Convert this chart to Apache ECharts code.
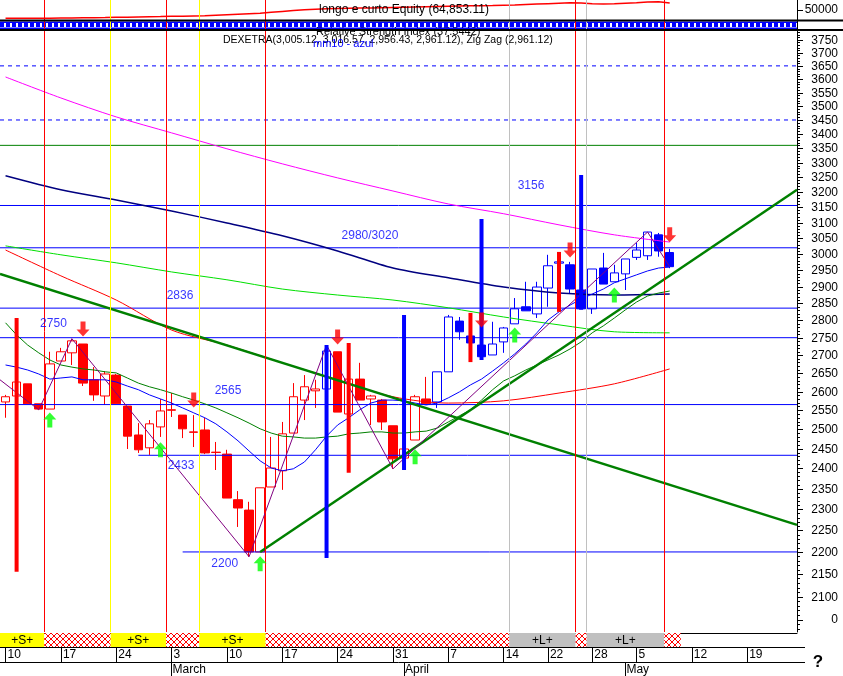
<!DOCTYPE html>
<html>
<head>
<meta charset="utf-8">
<script src="https://cdn.jsdelivr.net/npm/echarts@6.0.0/dist/echarts.min.js"></script>
<style>
html,body{margin:0;padding:0;background:#fff;}
#chart{width:843px;height:676px;}
</style>
</head>
<body>
<div id="chart"></div>
<script>
// ================= DATA =================
const dates = [
 '2014-02-10','2014-02-11','2014-02-12','2014-02-13','2014-02-14','2014-02-17','2014-02-18','2014-02-19','2014-02-20','2014-02-21',
 '2014-02-24','2014-02-25','2014-02-26','2014-02-27','2014-02-28','2014-03-03','2014-03-04','2014-03-05','2014-03-06','2014-03-07',
 '2014-03-10','2014-03-11','2014-03-12','2014-03-13','2014-03-14','2014-03-17','2014-03-18','2014-03-19','2014-03-20','2014-03-21',
 '2014-03-24','2014-03-25','2014-03-26','2014-03-27','2014-03-28','2014-03-31','2014-04-01','2014-04-02','2014-04-03','2014-04-04',
 '2014-04-07','2014-04-08','2014-04-09','2014-04-10','2014-04-11','2014-04-14','2014-04-15','2014-04-16','2014-04-17','2014-04-22',
 '2014-04-23','2014-04-24','2014-04-25','2014-04-28','2014-04-29','2014-04-30','2014-05-02','2014-05-05','2014-05-06','2014-05-07',
 '2014-05-08','2014-05-09','2014-05-12','2014-05-13','2014-05-14','2014-05-15','2014-05-16','2014-05-19','2014-05-20','2014-05-21',
 '2014-05-22','2014-05-23'
];
const weekTickIdx = [0,5,10,15,20,25,30,35,40,45,49,53,57,62,67];
const monthTickIdx = [15,36,56];
const monthNames = ['March','April','May'];

const open = [2572,2588,2621,2567,2553,2684,2707,2732,2632,2588,
 2645,2561,2485,2452,2506,2551,2537,2493,2498,2441,
 2436,2323,2298,2200,2354,2394,2490,2577,2602,2607,
 2710,2540,2634,2580,2577,2509,2426,2472,2580,2572,
 2654,2798,2755,2729,2701,2738,2790,2840,2819,2896,
 2972,2967,2890,2834,2957,2915,2939,2990,2995,3061,3005.12];
const close = [2586,2626,2567,2553,2676,2710,2741,2623,2591,2648,
 2567,2482,2447,2514,2548,2550,2501,2492,2439,2440,
 2327,2303,2200,2352,2401,2488,2586,2613,2607,2712,
 2545,2634,2577,2588,2519,2424,2449,2586,2567,2654,
 2810,2767,2735,2696,2732,2778,2834,2828,2899,2964,
 2976,2893,2834,2954,2908,2942,2985,3013,3070,3010,2961.12];
const low = [2530,2588,2567,2551,2553,2684,2673,2615,2575,2564,
 2567,2449,2439,2434,2480,2532,2477,2454,2436,2396,
 2327,2258,2189,2200,2354,2347,2490,2524,2556,2607,
 2545,2540,2577,2511,2498,2399,2426,2472,2567,2556,
 2654,2744,2729,2687,2701,2707,2790,2828,2807,2840,
 2968,2881,2834,2819,2908,2915,2890,2982,2982,2992,2956.43];
const high = [2591,2626,2621,2567,2710,2721,2747,2732,2667,2656,
 2648,2561,2516,2524,2580,2596,2537,2537,2530,2467,
 2447,2344,2318,2352,2480,2519,2623,2645,2632,2729,
 2710,2634,2679,2591,2580,2509,2449,2591,2640,2654,
 2816,2810,2755,2729,2796,2781,2866,2915,2915,2998,
 2982,2976,2890,2954,3004,2967,2985,3035,3070,3067,3016.57];
const candleColor = ['r','r','r','r','r','r','r','r','r','r',
 'r','r','r','r','r','r','r','r','r','r',
 'r','r','r','r','r','r','r','r','r','b',
 'r','r','r','r','r','r','r','r','r','b',
 'b','b','b','b','b','b','b','b','b','b',
 'b','b','b','b','b','b','b','b','b','b','b'];

const spikeIdx   = [1,29,31,36,42,43,50,52];
const spikeHigh  = [2807,2729,2735,2816,2822,3112,3007,3258];
const spikeLow   = [2155,2186,2389,2396,2681,2687,2825,2831];
const spikeColor = ['r','b','r','b','r','b','r','b'];

const maBlue = [2673,2667,2659,2648,2634,2637,2640,2632,2632,2632,
 2626,2615,2605,2591,2580,2569,2556,2543,2530,2514,
 2493,2470,2444,2419,2401,2394,2399,2416,2447,2482,
 2511,2530,2551,2569,2577,2577,2575,2569,2564,2569,
 2583,2599,2618,2634,2656,2679,2704,2732,2764,2801,
 2825,2845,2863,2878,2893,2912,2924,2936,2948,2957,2960];
const maGreen = [2793,2758,2729,2707,2687,2673,2667,2662,2659,2654,
 2651,2637,2623,2613,2605,2596,2586,2577,2567,2556,
 2543,2530,2516,2501,2490,2482,2480,2477,2477,2480,
 2482,2488,2490,2493,2493,2490,2490,2493,2495,2503,
 2519,2535,2551,2577,2605,2629,2643,2659,2673,2687,
 2701,2718,2738,2764,2784,2807,2831,2854,2872,2881,2887];
const maSampleIdx = [0,5,10,15,20,25,30,35,40,45,50,55,60];
const maNavy    = [3255,3208,3174,3138,3099,3058,3010,2957,2927,2899,2881,2875,2878];
const maMagenta = [3608,3530,3461,3404,3348,3296,3248,3204,3161,3129,3093,3061,3038];
const maRed     = [3013,2933,2860,2772,2729,2679,2632,2586,2569,2575,2596,2621,2662];
const maLime    = [3026,2998,2973,2945,2921,2893,2875,2860,2837,2810,2787,2767,2764];

const zigzagIdx = [-0.5,3,6,22,29,35,58,60];
const zigzagVal = [2632,2551,2747,2189,2729,2399,3070,2961.12];

const levelVal = [2200,2433,2565,2750,2836,3020,3156];
const levelFromIdx = [16,12,-0.5,-0.5,-0.5,-0.5,-0.5];
const levelText = ['2200','2433','2565','2750','2836','2980/3020','3156'];
const greenLevelVal = [3360];
const dashLevelVal = [3450,3650];

const trendDownIdx = [-0.5,71.5], trendDownVal = [2939,2263];
const trendUpIdx = [23,71.5], trendUpVal = [2200,3208];

const vLineAt = [4,10,15,18,24,46,52,53,60];
const vLineKind = ['r','y','r','y','r','g','r','g','r'];

const bandFrom = [0,4,10,15,18,24,46,52,53,60];
const bandTo   = [4,10,15,18,24,46,52,53,60,61.5];
const bandKind = ['S','H','S','H','S','H','L','H','L','H'];

const sellIdx = [7,17,30,43,51,60], sellVal = [2775,2577,2752,2801,3013,3061];
const buyIdx  = [4,14,23,37,46,55], buyVal  = [2524,2447,2173,2429,2758,2875];

const equity = [32400,32400,32500,32500,32600,32800,33000,33300,33600,34000,
 34500,34800,35200,35600,36000,36500,37000,37500,38000,39000,
 40000,41000,42000,43000,45000,47000,49000,50500,51500,52500,
 53000,53500,54000,54500,55000,55500,56000,56500,57000,57500,
 58000,58500,59000,59200,59500,60000,60500,61500,62500,63500,
 64500,65500,65000,63500,62700,63500,64500,65500,67000,67500,64853.11];

const yTickLabels = ['3750','3700','3650','3600','3550','3500','3450','3400','3350','3300','3250','3200',
 '3150','3100','3050','3000','2950','2900','2850','2800','2750','2700','2650','2600','2550','2500',
 '2450','2400','2350','2300','2250','2200','2150','2100'];

// ================= LAYOUT / STYLE =================
const FONT = '"Liberation Sans", Arial, sans-serif';
const RED = '#ff0000', BLUE = '#0000ff', DGREEN = '#008000';
const X = i => i + 0.5;
const colorOf = c => c === 'b' ? BLUE : RED;
const vColor = {r: RED, y: '#ffff00', g: '#c0c0c0'};
const levelLabelX = [20.3, 16.35, 20.6, 4.83, 16.26, 33.42, 47.97];
const levelLabelV = [2173, 2406, 2602, 2790, 2872, 3058, 3221];
const Y_MIN = 2024, Y_MAX = 3785;

// hatch pattern
const pc = document.createElement('canvas');
pc.width = 6; pc.height = 6;
const g = pc.getContext('2d');
g.fillStyle = '#fff'; g.fillRect(0,0,6,6);
g.strokeStyle = RED; g.lineWidth = 1;
g.beginPath(); g.moveTo(0,0); g.lineTo(6,6); g.moveTo(6,0); g.lineTo(0,6); g.stroke();
const hatch = {image: pc, repeat: 'repeat'};

const chart = echarts.init(document.getElementById('chart'));

const vmark = {
  silent: true, symbol: ['none','none'], label: {show: false}, animation: false,
  data: vLineAt.map((b, i) => ({xAxis: b, lineStyle: {color: vColor[vLineKind[i]], width: 1, type: 'solid'}}))
};

function mainLine(points, color, width, extra) {
  return Object.assign({
    type: 'line', xAxisIndex: 1, yAxisIndex: 0, data: points, symbol: 'none', silent: true,
    lineStyle: {color: color, width: width}, z: 3
  }, extra || {});
}

const series = [];
series.push({type: 'line', xAxisIndex: 1, yAxisIndex: 0, data: [[0, 2500]], symbol: 'none',
  lineStyle: {opacity: 0}, silent: true, markLine: vmark, z: 1});

// candles: hollow when close >= open, filled when close < open
series.push({
  type: 'candlestick', xAxisIndex: 0, yAxisIndex: 0, barWidth: 9, z: 2,
  data: open.map((o, i) => {
    const c = colorOf(candleColor[i]);
    const fill = close[i] < o ? c : '#ffffff';
    return {value: [o, close[i], low[i], high[i]],
      itemStyle: {color: fill, color0: fill, borderColor: c, borderColor0: c, borderWidth: 1}};
  })
});

levelVal.forEach((v, k) => series.push(mainLine([[X(levelFromIdx[k]), v], [72, v]], BLUE, 1)));
greenLevelVal.forEach(v => series.push(mainLine([[0, v], [72, v]], DGREEN, 1)));
dashLevelVal.forEach(v => series.push(mainLine([[0, v], [72, v]], BLUE, 1, {lineStyle: {color: BLUE, width: 1, type: [4, 4]}})));

series.push(mainLine(maSampleIdx.map((ix, k) => [X(ix), maMagenta[k]]), '#ff00ff', 1, {smooth: 0.3}));
series.push(mainLine(maSampleIdx.map((ix, k) => [X(ix), maNavy[k]]), '#000080', 1.5, {smooth: 0.3}));
series.push(mainLine(maSampleIdx.map((ix, k) => [X(ix), maLime[k]]), '#00e000', 1, {smooth: 0.3}));
series.push(mainLine(maSampleIdx.map((ix, k) => [X(ix), maRed[k]]), RED, 1, {smooth: 0.3}));
series.push(mainLine(maGreen.map((v, i) => [X(i), v]), DGREEN, 1));
series.push(mainLine(maBlue.map((v, i) => [X(i), v]), BLUE, 1));
series.push(mainLine(trendDownIdx.map((ix, k) => [X(ix), trendDownVal[k]]), DGREEN, 2.5));
series.push(mainLine(trendUpIdx.map((ix, k) => [X(ix), trendUpVal[k]]), DGREEN, 2.5));
series.push(mainLine(zigzagIdx.map((ix, k) => [X(ix), zigzagVal[k]]), '#800080', 1));

series.push({
  type: 'custom', xAxisIndex: 1, yAxisIndex: 0, z: 4, silent: true,
  data: spikeIdx.map((ix, k) => [X(ix), spikeLow[k], spikeHigh[k]]),
  encode: {x: 0, y: [1, 2]},
  renderItem: (p, api) => {
    const a = api.coord([api.value(0), api.value(2)]);
    const b = api.coord([api.value(0), api.value(1)]);
    return {type: 'rect', shape: {x: a[0] - 2, y: a[1], width: 4, height: b[1] - a[1]},
      style: {fill: colorOf(spikeColor[p.dataIndex])}};
  }
});

series.push({type: 'scatter', xAxisIndex: 1, yAxisIndex: 0, z: 5, silent: true,
  data: sellIdx.map((ix, k) => [X(ix), sellVal[k]]),
  symbol: 'path://M4,0 L9,0 L9,8 L13,8 L6.5,15 L0,8 L4,8 Z', symbolSize: [13, 15],
  itemStyle: {color: RED}});
series.push({type: 'scatter', xAxisIndex: 1, yAxisIndex: 0, z: 5, silent: true,
  data: buyIdx.map((ix, k) => [X(ix), buyVal[k]]),
  symbol: 'path://M6.5,0 L13,7 L9,7 L9,15 L4,15 L4,7 L0,7 Z', symbolSize: [13, 15],
  itemStyle: {color: '#00ff00'}});

series.push({type: 'scatter', xAxisIndex: 1, yAxisIndex: 0, z: 6, silent: true, symbolSize: 1,
  itemStyle: {color: 'rgba(0,0,0,0)'},
  data: levelText.map((t, k) => ({name: t, value: [levelLabelX[k], levelLabelV[k]]})),
  label: {show: true, position: 'inside', formatter: '{b}', color: BLUE, fontSize: 12, fontFamily: FONT}});

const tickRows = [];
for (let v = 2030; v <= 3780; v += 10) {
  const lbl = yTickLabels.indexOf(String(v));
  tickRows.push([72, v, lbl >= 0 ? 1 : 0, lbl]);
}
series.push({
  type: 'custom', xAxisIndex: 1, yAxisIndex: 0, z: 6, silent: true, clip: false,
  data: tickRows, encode: {x: 0, y: 1},
  renderItem: (p, api) => {
    const pt = api.coord([api.value(0), api.value(1)]);
    const major = api.value(2) === 1;
    const y = Math.round(pt[1]) + 0.5;
    const x = Math.round(pt[0]);
    const ch = [{type: 'line', shape: {x1: x, y1: y, x2: x + (major ? 6 : 3), y2: y},
      style: {stroke: '#000', lineWidth: 1}}];
    if (major) {
      ch.push({type: 'text', x: x + 41, y: y,
        style: {text: yTickLabels[tickRows[p.dataIndex][3]], align: 'right', verticalAlign: 'middle',
          font: '12px ' + FONT, fill: '#000'}});
    }
    return {type: 'group', children: ch};
  }
});

series.push({type: 'line', xAxisIndex: 2, yAxisIndex: 1, symbol: 'none', silent: true,
  data: equity.map((v, i) => [X(i), v]), lineStyle: {color: RED, width: 1.5}, markLine: vmark});

series.push({type: 'line', xAxisIndex: 3, yAxisIndex: 2, symbol: 'none', silent: true,
  data: [[0, 0.85], [72, 0.85]], lineStyle: {color: BLUE, width: 1.5}, markLine: vmark});
series.push({type: 'line', xAxisIndex: 3, yAxisIndex: 2, symbol: 'none', silent: true,
  data: [[0, 0.55], [72, 0.55]], lineStyle: {color: BLUE, width: 4, type: [4, 2]}});
series.push({type: 'line', xAxisIndex: 3, yAxisIndex: 2, symbol: 'none', silent: true,
  data: [[0, 0.2], [72, 0.2]], lineStyle: {color: BLUE, width: 1.5}});

series.push({
  type: 'custom', xAxisIndex: 4, yAxisIndex: 3, silent: true,
  data: bandFrom.map((f, i) => [f, bandTo[i], 0]),
  encode: {x: [0, 1], y: 2},
  renderItem: (p, api) => {
    const a = api.coord([api.value(0), 1]);
    const b = api.coord([api.value(1), 0]);
    const kind = bandKind[p.dataIndex];
    const fill = kind === 'S' ? '#ffff00' : kind === 'L' ? '#c0c0c0' : hatch;
    const ch = [{type: 'rect', shape: {x: a[0], y: a[1], width: b[0] - a[0], height: b[1] - a[1]}, style: {fill: fill}}];
    if (kind !== 'H') {
      ch.push({type: 'text', x: (a[0] + b[0]) / 2, y: (a[1] + b[1]) / 2 + 1,
        style: {text: kind === 'S' ? '+S+' : '+L+', align: 'center', verticalAlign: 'middle', font: '12px ' + FONT, fill: '#000'}});
    }
    return {type: 'group', children: ch};
  }
});

const weekSet = new Set(weekTickIdx);
const monthSet = new Set(monthTickIdx);
const blackLine = {show: true, onZero: false, lineStyle: {color: '#000', width: 1}};

chart.setOption({
  animation: false,
  backgroundColor: '#ffffff',
  grid: [
    {left: 0, right: 46, top: 31, height: 601},
    {left: 0, right: 46, top: 0, height: 20},
    {left: 0, right: 46, top: 21, height: 9},
    {left: 0, right: 46, top: 633, height: 14}
  ],
  xAxis: [
    {type: 'category', gridIndex: 0, data: dates, boundaryGap: true, show: false},
    {type: 'value', gridIndex: 0, min: 0, max: 72, show: false},
    {type: 'value', gridIndex: 1, min: 0, max: 72, show: false},
    {type: 'value', gridIndex: 2, min: 0, max: 72, show: false},
    {type: 'value', gridIndex: 3, min: 0, max: 72, position: 'top', axisLine: blackLine,
      axisTick: {show: false}, axisLabel: {show: false}, splitLine: {show: false}},
    {type: 'category', gridIndex: 3, data: dates, boundaryGap: true, position: 'bottom', axisLine: blackLine,
      axisTick: {show: true, alignWithLabel: true, interval: (i) => weekSet.has(i), length: 15, lineStyle: {color: '#000'}},
      axisLabel: {show: true, interval: (i) => weekSet.has(i), formatter: (v) => String(parseInt(v.slice(8), 10)),
        align: 'left', margin: 2, padding: [0, 0, 0, 2], fontSize: 12, fontFamily: FONT, color: '#000'},
      splitLine: {show: false}},
    {type: 'category', gridIndex: 3, data: dates, boundaryGap: true, position: 'bottom', offset: 15, axisLine: blackLine,
      axisTick: {show: true, alignWithLabel: true, interval: (i) => monthSet.has(i), length: 14, lineStyle: {color: '#000'}},
      axisLabel: {show: true, interval: (i) => monthSet.has(i),
        formatter: (v, i) => { const k = monthTickIdx.indexOf(i); return k >= 0 ? monthNames[k] : ''; },
        align: 'left', margin: 2, padding: [0, 0, 0, 1], fontSize: 12, fontFamily: FONT, color: '#000'},
      splitLine: {show: false}}
  ],
  yAxis: [
    {type: 'log', gridIndex: 0, min: Y_MIN, max: Y_MAX, position: 'right', axisLine: blackLine,
      axisTick: {show: false}, axisLabel: {show: false}, splitLine: {show: false}},
    {type: 'value', gridIndex: 1, min: 28780, max: 71220, position: 'right', axisLine: blackLine,
      axisTick: {show: true, customValues: [50000], length: 6, lineStyle: {color: '#000'}},
      axisLabel: {show: true, customValues: [50000], formatter: (v) => (v === 50000 ? '50000' : ''),
        align: 'right', margin: 41, fontSize: 12, fontFamily: FONT, color: '#000'},
      splitLine: {show: false}},
    {type: 'value', gridIndex: 2, min: 0, max: 1, position: 'right', axisLine: blackLine,
      axisTick: {show: false}, axisLabel: {show: false}, splitLine: {show: false}},
    {type: 'value', gridIndex: 3, min: 0, max: 1, show: false}
  ],
  graphic: [
    {type: 'text', x: 319, y: 10, z: 10, style: {text: 'longo e curto Equity (64,853.11)', font: '12px ' + FONT, fill: '#000', verticalAlign: 'middle'}},
    {type: 'text', x: 316, y: 32, z: 1, style: {text: 'Relative Strength Index (37.5442)', font: '11px ' + FONT, fill: '#000', verticalAlign: 'middle'}},
    {type: 'line', z: 20, shape: {x1: 0, y1: 20.5, x2: 843, y2: 20.5}, style: {stroke: '#000', lineWidth: 2}},
    {type: 'line', z: 20, shape: {x1: 0, y1: 30, x2: 843, y2: 30}, style: {stroke: '#000', lineWidth: 2}},
    {type: 'text', x: 223, y: 40, z: 10, style: {text: 'DEXETRA(3,005.12, 3,016.57, 2,956.43, 2,961.12), Zig Zag (2,961.12)', font: '10.5px ' + FONT, fill: '#000', verticalAlign: 'middle'}},
    {type: 'text', x: 313, y: 44, z: 11, style: {text: 'mm10 - azul', font: '11px ' + FONT, fill: BLUE, verticalAlign: 'middle'}},
    {type: 'line', z: 10, shape: {x1: 797, y1: 620.5, x2: 803, y2: 620.5}, style: {stroke: '#000', lineWidth: 1}},
    {type: 'text', x: 838, y: 620, z: 10, style: {text: '0', font: '12px ' + FONT, fill: '#000', align: 'right', verticalAlign: 'middle'}},
    {type: 'line', z: 10, shape: {x1: 797, y1: 647.5, x2: 805, y2: 647.5}, style: {stroke: '#000', lineWidth: 1}},
    {type: 'line', z: 10, shape: {x1: 797, y1: 662.5, x2: 805, y2: 662.5}, style: {stroke: '#000', lineWidth: 1}},
    {type: 'text', x: 818, y: 662, z: 10, style: {text: '?', font: 'bold 17px ' + FONT, fill: '#000', align: 'center', verticalAlign: 'middle'}}
  ],
  series: series
});
</script>
</body>
</html>
